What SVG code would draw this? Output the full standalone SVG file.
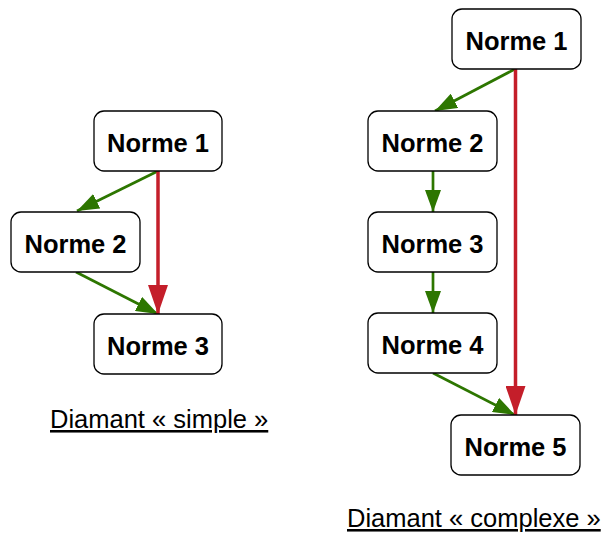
<svg xmlns="http://www.w3.org/2000/svg" width="605" height="533" viewBox="0 0 605 533">
<style>
.node rect{fill:#fff;stroke:#000;stroke-width:1.3}
.node text{font-family:"Liberation Sans",Arial,sans-serif;font-weight:bold;font-size:25.5px;text-anchor:middle;fill:#000}
.g{stroke:#2D7600;stroke-width:2.7;fill:none}
.r{stroke:#C41E2A;stroke-width:3.5;fill:none}
.cap{font-family:"Liberation Sans",Arial,sans-serif;font-size:25.5px;text-decoration:underline;fill:#000}
</style>
<defs>
<marker id="ag" markerUnits="userSpaceOnUse" markerWidth="22" markerHeight="16" refX="22" refY="8" orient="auto"><path d="M0,0 L22,8 L0,16 z" fill="#2D7600"/></marker>
<marker id="ar" markerUnits="userSpaceOnUse" markerWidth="29" markerHeight="20" refX="29" refY="10" orient="auto"><path d="M0,0 L29,10 L0,20 z" fill="#C41E2A"/></marker>
</defs>
<g id="connectors">
<path class="g" d="M158,171 L77,211" marker-end="url(#ag)"/>
<path class="g" d="M76,272 L158,314" marker-end="url(#ag)"/>
<path class="r" d="M158,171 L158,314" marker-end="url(#ar)"/>
<path class="g" d="M515,69 L435,111" marker-end="url(#ag)"/>
<path class="g" d="M433,171 L433,212" marker-end="url(#ag)"/>
<path class="g" d="M433,272 L433,313" marker-end="url(#ag)"/>
<path class="g" d="M433,373 L515,415" marker-end="url(#ag)"/>
<path class="r" d="M515.5,69 L515.5,415" marker-end="url(#ar)"/>
</g>
<g id="l1" class="node"><rect x="94" y="111" width="128" height="60" rx="10"/><text x="158" y="151.5">Norme 1</text></g>
<g id="l2" class="node"><rect x="11" y="212" width="129" height="60" rx="10"/><text x="75.5" y="252.5">Norme 2</text></g>
<g id="l3" class="node"><rect x="94" y="314" width="128" height="60" rx="10"/><text x="158" y="354.5">Norme 3</text></g>
<g id="r1" class="node"><rect x="452" y="9" width="129" height="60" rx="10"/><text x="516.5" y="49.5">Norme 1</text></g>
<g id="r2" class="node"><rect x="368" y="111" width="129" height="60" rx="10"/><text x="432.5" y="151.5">Norme 2</text></g>
<g id="r3" class="node"><rect x="368" y="212" width="129" height="60" rx="10"/><text x="432.5" y="252.5">Norme 3</text></g>
<g id="r4" class="node"><rect x="368" y="313" width="129" height="60" rx="10"/><text x="432.5" y="353.5">Norme 4</text></g>
<g id="r5" class="node"><rect x="451" y="415" width="129" height="60" rx="10"/><text x="515.5" y="455.5">Norme 5</text></g>
<text class="cap" x="50" y="428">Diamant « simple »</text>
<text class="cap" x="347" y="527">Diamant « complexe »</text>
</svg>
